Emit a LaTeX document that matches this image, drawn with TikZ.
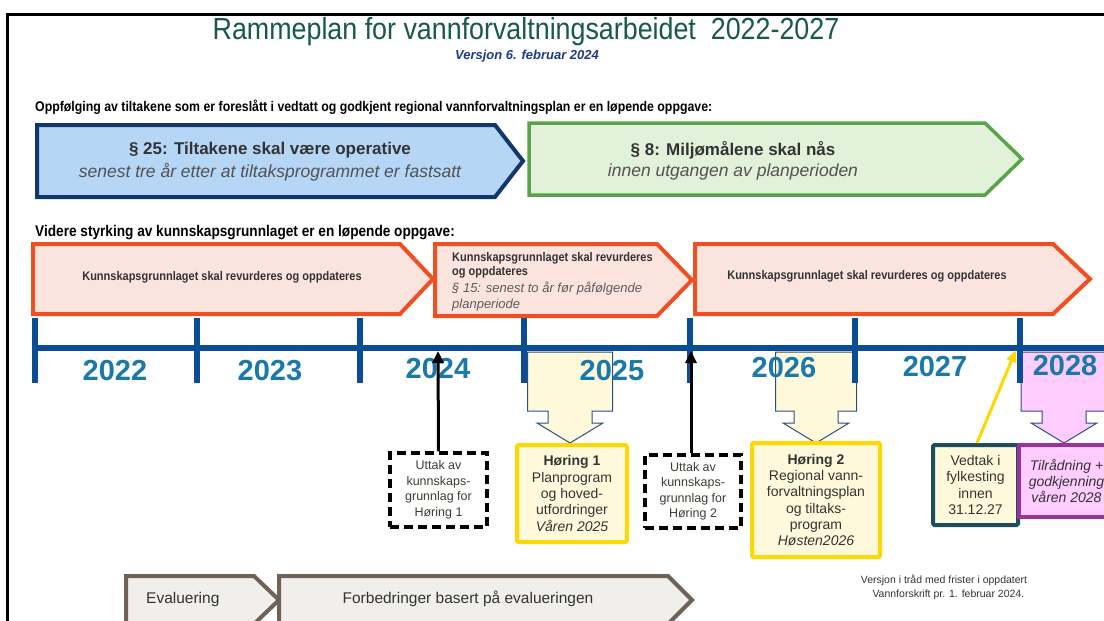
\documentclass[tikz,border=0pt]{standalone}
\usepackage{fontspec}
\setmainfont{Liberation Sans}
\newfontfamily\narrowfont[FakeStretch=0.88]{Liberation Sans}
\usetikzlibrary{arrows.meta}
\definecolor{cTitle}{HTML}{17594A}
\definecolor{cSub}{HTML}{1F3A8A}
\definecolor{cBlueB}{HTML}{12386B}
\definecolor{cBlueF}{HTML}{B6D6F6}
\definecolor{cGreenB}{HTML}{58A447}
\definecolor{cGreenF}{HTML}{E2F1DA}
\definecolor{cOrB}{HTML}{F04E23}
\definecolor{cOrF}{HTML}{FBE4DE}
\definecolor{cLine}{HTML}{0B4D95}
\definecolor{cYear}{HTML}{1A78AA}
\definecolor{cCallF}{HTML}{FFF9DC}
\definecolor{cCallB}{HTML}{2F4F7F}
\definecolor{cYel}{HTML}{FFD800}
\definecolor{cTeal}{HTML}{1A4E60}
\definecolor{cPinkF}{HTML}{FFCCFF}
\definecolor{cPurp}{HTML}{993399}
\definecolor{cGrayB}{HTML}{6E6258}
\definecolor{cGrayF}{HTML}{F0EFEC}
\definecolor{cTxt}{HTML}{333333}
\newcommand{\mycallout}[3]{%
  \draw[callout,fill=#3] (#1-#2,352) -- (#1+#2,352) -- (#1+#2,411) -- (#1+22,411) -- (#1+22,423) -- (#1+33,423) -- (#1,443) -- (#1-33,423) -- (#1-22,423) -- (#1-22,411) -- (#1-#2,411) -- cycle;}
\begin{document}
\begin{tikzpicture}[x=1pt,y=-1pt,
  bluebox/.style={draw=cBlueB, fill=cBlueF, line width=4},
  greenbox/.style={draw=cGreenB, fill=cGreenF, line width=3.5},
  orbox/.style={draw=cOrB, fill=cOrF, line width=4},
  graybox/.style={draw=cGrayB, fill=cGrayF, line width=4},
  callout/.style={draw=cCallB, line width=1},
  tick/.style={draw=cLine, line width=5.5},
  year/.style={font=\fontsize{29}{30}\selectfont\bfseries, text=cYear, inner sep=0},
  heading/.style={font=\narrowfont\fontsize{14}{16}\selectfont\bfseries, anchor=west, inner sep=0},
  boxtitle/.style={font=\fontsize{17}{19}\selectfont\bfseries, text=cTxt, inner sep=0},
  boxsub/.style={font=\fontsize{17.5}{19}\selectfont\itshape, text=cTxt!85, inner sep=0},
  ortext/.style={font=\narrowfont\fontsize{12.5}{14}\selectfont\bfseries, text=cTxt, inner sep=0},
  dashbox/.style={draw=black, line width=3.5, dash pattern=on 9pt off 5pt, fill=white, align=center,
     font=\fontsize{12.5}{15.5}\selectfont, text=cTxt!90!brown, inner sep=0},
  yelbox/.style={draw=cYel, line width=4, fill=cCallF, rounded corners=1.5, align=center,
     font=\fontsize{14}{16.3}\selectfont, text=cTxt, inner sep=0},
  blkarrow/.style={draw=black, line width=3, -{Triangle[length=12,width=11]}},
  yelarrow/.style={draw=cYel, line width=3, -{Triangle[length=12,width=10]}},
  ]
\useasboundingbox (0,0) rectangle (1104,621);
\fill[white] (0,0) rectangle (1104,621);
\clip (0,0) rectangle (1104,621);

% frame
\draw[line width=3] (7.5,640) -- (7.5,14.5) -- (1120,14.5);

% title
\node[font=\narrowfont\fontsize{30.5}{33}\selectfont, text=cTitle, inner sep=0] (title) at (526,32) {Rammeplan for vannforvaltningsarbeidet\ \ 2022-2027};
\node[font=\fontsize{13}{15}\selectfont\bfseries\itshape, text=cSub, inner sep=0] (subtitle) at (527,56) {Versjon 6. februar 2024};

% heading 1
\node[heading] (h1) at (35,107) {Oppfølging av tiltakene som er foreslått i vedtatt og godkjent regional vannforvaltningsplan er en løpende oppgave:};

% blue and green arrows
\draw[bluebox] (37,125) -- (495,125) -- (523,161) -- (495,197) -- (37,197) -- cycle;
\node[boxtitle] (b25) at (270,150) {§ 25: Tiltakene skal være operative};
\node[boxsub] (b25s) at (270,172) {senest tre år etter at tiltaksprogrammet er fastsatt};
\draw[greenbox] (529,123) -- (985,123) -- (1022,159) -- (985,195) -- (529,195) -- cycle;
\node[boxtitle] (b8) at (733,150) {§ 8: Miljømålene skal nås};
\node[boxsub] (b8s) at (733,172) {innen utgangen av planperioden};

% heading 2
\node[heading, font=\narrowfont\fontsize{15.5}{17}\selectfont\bfseries] (h2) at (35,233) {Videre styrking av kunnskapsgrunnlaget er en løpende oppgave:};

% orange arrows
\draw[orbox] (33,244) -- (400,244) -- (433,279) -- (400,314) -- (33,314) -- cycle;
\node[ortext] (k1) at (222,277) {Kunnskapsgrunnlaget skal revurderes og oppdateres};
\draw[orbox] (435,244) -- (657,244) -- (692,280) -- (657,316) -- (435,316) -- cycle;
\node[ortext, anchor=west, align=left] (k2) at (452,265) {Kunnskapsgrunnlaget skal revurderes\\og oppdateres};
\node[anchor=west, align=left, inner sep=0, font=\itshape\fontsize{13}{16}\selectfont, text=cTxt!80] (k2s) at (452,297) {§ 15: senest to år før påfølgende\\planperiode};
\draw[orbox] (695,244) -- (1053,244) -- (1090,279) -- (1053,314) -- (695,314) -- cycle;
\node[ortext] (k3) at (867,276) {Kunnskapsgrunnlaget skal revurderes og oppdateres};

% callouts below timeline
\mycallout{570}{42.5}{cCallF}
\mycallout{816}{40.5}{cCallF}
\mycallout{1064}{43}{cPinkF}

% timeline
\draw[cLine, line width=6] (33,348) -- (1110,348);
\foreach \t in {35,197,360,524,690,855,1020} {\draw[tick] (\t,318) -- (\t,383);}
\node[year] (y22) at (115,371) {2022};
\node[year] (y23) at (270,371) {2023};
\node[year] (y24) at (438,369) {2024};
\node[year] (y25) at (612,371) {2025};
\node[year] (y26) at (784,368) {2026};
\node[year] (y27) at (935,367) {2027};
\node[year] (y28) at (1065,366) {2028};
\coordinate (t1) at (438,351);
\coordinate (t2) at (691,351);
\coordinate (t3) at (1016,350);

% boxes below
\node[dashbox, minimum width=97, minimum height=74] (u1) at (438.5,490) {Uttak av\\kunnskaps-\\grunnlag for\\Høring 1};
\node[dashbox, minimum width=96, minimum height=73] (u2) at (693,491.5) {Uttak av\\kunnskaps-\\grunnlag for\\Høring 2};
\node[yelbox, minimum width=110, minimum height=97] (h1b) at (572,493.5) {\textbf{Høring 1}\\Planprogram\\og hoved-\\utfordringer\\\textit{Våren 2025}};
\node[yelbox, minimum width=128, minimum height=114] (h2b) at (816,500) {\textbf{Høring 2}\\Regional vann-\\forvaltningsplan\\og tiltaks-\\program\\\textit{Høsten2026}};
\node[yelbox, draw=cTeal, minimum width=85, minimum height=80] (ved) at (975.5,485) {Vedtak i\\fylkesting\\innen\\31.12.27};
\node[yelbox, draw=cPurp, fill=cPinkF, rounded corners=0, minimum width=95, minimum height=72, font=\fontsize{14}{16.3}\selectfont\itshape] (til) at (1066.5,481) {Tilrådning +\\godkjenning\\våren 2028};

% arrows
\draw[blkarrow] (u1.north) -- (t1);
\draw[blkarrow] (u2.north -| t2) -- (t2);
\draw[yelarrow] ([xshift=1.5]ved.north) -- (t3);

% evaluation arrows
\draw[graybox] (126,576) -- (254,576) -- (279,600) -- (254,624) -- (126,624) -- cycle;
\node[font=\fontsize{15.5}{17}\selectfont, text=cTxt, inner sep=0, anchor=west] (ev) at (146,599) {Evaluering};
\draw[graybox] (279,576) -- (668,576) -- (692,600) -- (668,624) -- (279,624) -- cycle;
\node[font=\fontsize{15.5}{17}\selectfont, text=cTxt, inner sep=0] (fb) at (468,599) {Forbedringer basert på evalueringen};

% footnote
\node[font=\fontsize{10.5}{14}\selectfont, text=cTxt, align=center, inner sep=0] (fn) at (944,587) {Versjon i tråd med frister i oppdatert\\\ \ \ Vannforskrift pr. 1. februar 2024.};
\end{tikzpicture}
\end{document}
